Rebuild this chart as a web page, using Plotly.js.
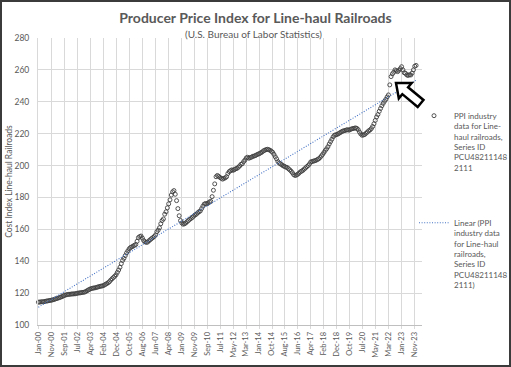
<!DOCTYPE html>
<html><head><meta charset="utf-8">
<script src="https://cdn.plot.ly/plotly-3.0.1.min.js"></script>
<style>
html,body{margin:0;padding:0;background:#fff;}
#wrap{position:relative;width:511px;height:367px;overflow:hidden;}
#chart{width:511px;height:367px;}
#frame{position:absolute;left:0;top:0;width:511px;height:367px;box-sizing:border-box;border:2px solid #3b3b3b;pointer-events:none;}
</style></head><body>
<div id="wrap"><div id="chart"></div><div id="frame"></div></div>
<script>
// Monthly PPI values, Jan of each year to Dec
const y2000 = [114.3, 114.4, 114.5, 114.6, 114.6, 114.8, 115.0, 115.1, 115.3, 115.4, 115.6, 115.8];
const y2001 = [116.0, 116.4, 116.6, 116.9, 117.2, 117.5, 117.8, 118.3, 118.6, 118.9, 119.1, 119.2];
const y2002 = [119.3, 119.4, 119.5, 119.5, 119.6, 119.8, 120.0, 120.1, 120.2, 120.4, 120.5, 120.6];
const y2003 = [121.0, 121.5, 122.0, 122.4, 122.8, 123.0, 123.2, 123.3, 123.5, 123.8, 124.0, 124.3];
const y2004 = [124.4, 124.6, 125.0, 125.5, 126.0, 126.5, 127.2, 128.2, 129.0, 129.8, 130.6, 131.5];
const y2005 = [133.0, 134.5, 136.2, 138.5, 140.5, 141.8, 143.5, 145.2, 146.5, 147.8, 148.6, 149.0];
const y2006 = [149.5, 150.0, 150.5, 152.5, 154.8, 155.5, 155.8, 154.5, 153.0, 152.2, 151.8, 152.0];
const y2007 = [152.8, 153.5, 154.2, 154.8, 155.5, 156.5, 158.5, 159.5, 161.0, 163.5, 165.5, 166.5];
const y2008 = [169.5, 171.0, 173.5, 176.0, 178.5, 181.5, 183.5, 184.3, 182.0, 178.0, 173.0, 168.5];
const y2009 = [165.5, 164.0, 163.2, 163.5, 164.0, 164.8, 165.5, 166.3, 166.8, 167.5, 168.3, 169.0];
const y2010 = [169.5, 170.3, 171.0, 171.5, 173.0, 174.5, 175.8, 176.2, 176.0, 176.5, 177.2, 177.5];
const y2011 = [180.5, 184.5, 188.5, 193.0, 193.8, 193.2, 192.5, 192.0, 191.5, 192.0, 192.3, 193.0];
const y2012 = [195.0, 196.2, 196.8, 197.3, 197.0, 197.5, 198.0, 198.3, 199.0, 199.8, 200.8, 201.2];
const y2013 = [202.5, 203.5, 204.8, 205.2, 204.6, 205.0, 205.3, 205.8, 206.0, 206.3, 206.8, 207.2];
const y2014 = [207.5, 208.0, 208.5, 209.2, 209.6, 210.0, 210.2, 210.0, 209.6, 209.0, 208.3, 207.0];
const y2015 = [205.5, 204.2, 202.5, 201.5, 201.0, 200.5, 199.8, 199.5, 199.0, 198.8, 198.0, 197.3];
const y2016 = [196.5, 195.5, 194.3, 193.8, 194.0, 194.5, 195.2, 196.0, 196.5, 197.0, 197.8, 198.5];
const y2017 = [199.3, 200.0, 201.0, 202.3, 202.5, 202.8, 203.0, 203.3, 203.8, 204.2, 205.0, 206.0];
const y2018 = [207.0, 208.2, 209.5, 210.5, 211.8, 213.5, 215.0, 216.5, 218.0, 219.0, 219.3, 219.5];
const y2019 = [220.0, 220.5, 221.0, 221.5, 221.8, 222.0, 222.3, 222.5, 222.2, 222.6, 223.0, 223.2];
const y2020 = [223.4, 223.6, 223.3, 222.5, 221.0, 219.8, 219.0, 219.2, 219.5, 220.3, 221.0, 221.8];
const y2021 = [222.3, 223.2, 224.5, 226.2, 228.3, 230.5, 232.0, 234.0, 235.8, 237.5, 239.0, 240.3];
const y2022 = [241.5, 243.0, 244.3, 250.6, 255.8, 257.5, 258.5, 260.0, 259.5, 258.9, 259.8, 260.8];
const y2023 = [262.0, 260.0, 258.2, 257.8, 256.8, 256.5, 257.0, 256.8, 258.0, 260.0, 262.3, 262.8];

const tickLabels = ['Jan-00','Nov-00','Sep-01','Jul-02','Apr-03','Feb-04','Dec-04','Oct-05','Aug-06','Jun-07',
  'Apr-08','Jan-09','Nov-09','Sep-10','Jul-11','May-12','Mar-13','Jan-14','Oct-14','Aug-15',
  'Jun-16','Apr-17','Feb-18','Dec-18','Oct-19','Jul-20','May-21','Mar-22','Jan-23','Nov-23'];

const seriesName = 'PPI industry<br>data for Line-<br>haul railroads,<br>Series ID<br>PCU48211148<br>2111';
const trendName = 'Linear (PPI<br>industry data<br>for Line-haul<br>railroads,<br>Series ID<br>PCU48211148<br>2111)';

const ppi = [].concat(y2000,y2001,y2002,y2003,y2004,y2005,y2006,y2007,y2008,y2009,y2010,y2011,
  y2012,y2013,y2014,y2015,y2016,y2017,y2018,y2019,y2020,y2021,y2022,y2023);
const monthIdx = ppi.map((_, i) => i);

// least-squares linear trend
const n = ppi.length;
let sx = 0, sy = 0, sxx = 0, sxy = 0;
for (let i = 0; i < n; i++) { sx += monthIdx[i]; sy += ppi[i]; sxx += monthIdx[i]*monthIdx[i]; sxy += monthIdx[i]*ppi[i]; }
const slope = (n*sxy - sx*sy) / (n*sxx - sx*sx);
const icpt = (sy - slope*sx) / n;
const trendX = [monthIdx[0], monthIdx[n-1]];
const trendY = trendX.map(x => icpt + slope*x);

// evenly spaced category labels (every ~10 months)
const span = 286;
const tickVals = tickLabels.map((_, k) => k * span / (tickLabels.length - 1));

// page geometry helpers for the annotation arrow
const W = 511, H = 367, mL = 38, mR = 89, mT = 38, mB = 42;
const px2x = p => (p - mL) / (W - mL - mR);
const py2y = p => (H - mB - p) / (H - mT - mB);
function arrowPath() {
  const tip = [396, 83], d = [0.768, 0.640], nrm = [-0.640, 0.768];
  const L = 32, h = 12, hw = 10, sw = 4.5;
  const B = [tip[0] + h*d[0], tip[1] + h*d[1]];
  const E = [tip[0] + L*d[0], tip[1] + L*d[1]];
  const pts = [
    tip,
    [B[0] + hw*nrm[0], B[1] + hw*nrm[1]],
    [B[0] + sw*nrm[0], B[1] + sw*nrm[1]],
    [E[0] + sw*nrm[0], E[1] + sw*nrm[1]],
    [E[0] - sw*nrm[0], E[1] - sw*nrm[1]],
    [B[0] - sw*nrm[0], B[1] - sw*nrm[1]],
    [B[0] - hw*nrm[0], B[1] - hw*nrm[1]]
  ];
  return pts.map((p, i) => (i ? 'L' : 'M') + px2x(p[0]).toFixed(4) + ',' + py2y(p[1]).toFixed(4)).join(' ') + ' Z';
}

const fontFam = 'Lato, "Open Sans", sans-serif';
const gray = '#595959';

const traces = [
  {
    x: monthIdx, y: ppi, type: 'scatter', mode: 'markers', name: seriesName,
    marker: {symbol: 'circle-open', size: 4, color: '#404040', line: {width: 0.9, color: '#404040'}},
    cliponaxis: false, legend: 'legend'
  },
  {
    x: trendX, y: trendY, type: 'scatter', mode: 'lines', name: trendName,
    line: {color: '#4472C4', width: 1.1, dash: '1px,1.6px'}, legend: 'legend2'
  }
];

const legendCommon = {
  xanchor: 'left', yanchor: 'top', valign: 'top', itemwidth: 30,
  bgcolor: 'rgba(0,0,0,0)', borderwidth: 0,
  font: {family: fontFam, size: 8, color: gray}
};

const layout = {
  width: W, height: H,
  margin: {l: mL, r: mR, t: mT, b: mB, autoexpand: false},
  paper_bgcolor: '#ffffff', plot_bgcolor: '#ffffff',
  showlegend: true,
  title: {
    text: 'Producer Price Index for Line-haul Railroads',
    x: 0.5, xanchor: 'center', y: 1 - 18/H, yanchor: 'middle',
    font: {family: fontFam, size: 14, color: gray, weight: 'bold'}
  },
  xaxis: {
    range: [-0.3, 291.5], tickmode: 'array', tickvals: tickVals, ticktext: tickLabels,
    tickangle: -90, tickfont: {family: fontFam, size: 7.5, color: gray},
    showgrid: true, gridcolor: '#d9d9d9', gridwidth: 1,
    showline: true, linecolor: '#bfbfbf', linewidth: 1,
    ticks: 'outside', ticklen: 3, tickcolor: '#d9d9d9', zeroline: false, fixedrange: true
  },
  yaxis: {
    range: [100, 280], dtick: 20, tick0: 100,
    tickfont: {family: fontFam, size: 8.5, color: gray},
    showgrid: true, gridcolor: '#d9d9d9', gridwidth: 1,
    showline: true, linecolor: '#d9d9d9', linewidth: 1,
    ticks: '', ticklabelstandoff: 6, zeroline: false, fixedrange: true,
    title: {text: 'Cost Index Line-haul Railroads', font: {family: fontFam, size: 8.5, color: gray}, standoff: 0}
  },
  legend: Object.assign({x: px2x(414), y: py2y(104)}, legendCommon),
  legend2: Object.assign({x: px2x(414), y: py2y(211)}, legendCommon),
  annotations: [{
    text: '(U.S. Bureau of Labor Statistics)', xref: 'paper', yref: 'paper',
    x: px2x(253), y: py2y(34), xanchor: 'center', yanchor: 'middle', showarrow: false,
    font: {family: fontFam, size: 10, color: gray}
  }],
  shapes: [{
    type: 'path', xref: 'paper', yref: 'paper', path: arrowPath(),
    line: {color: '#000000', width: 2.5}, fillcolor: '#ffffff', layer: 'above'
  }]
};

Plotly.newPlot('chart', traces, layout, {staticPlot: true, displayModeBar: false});
</script>
</body></html>
